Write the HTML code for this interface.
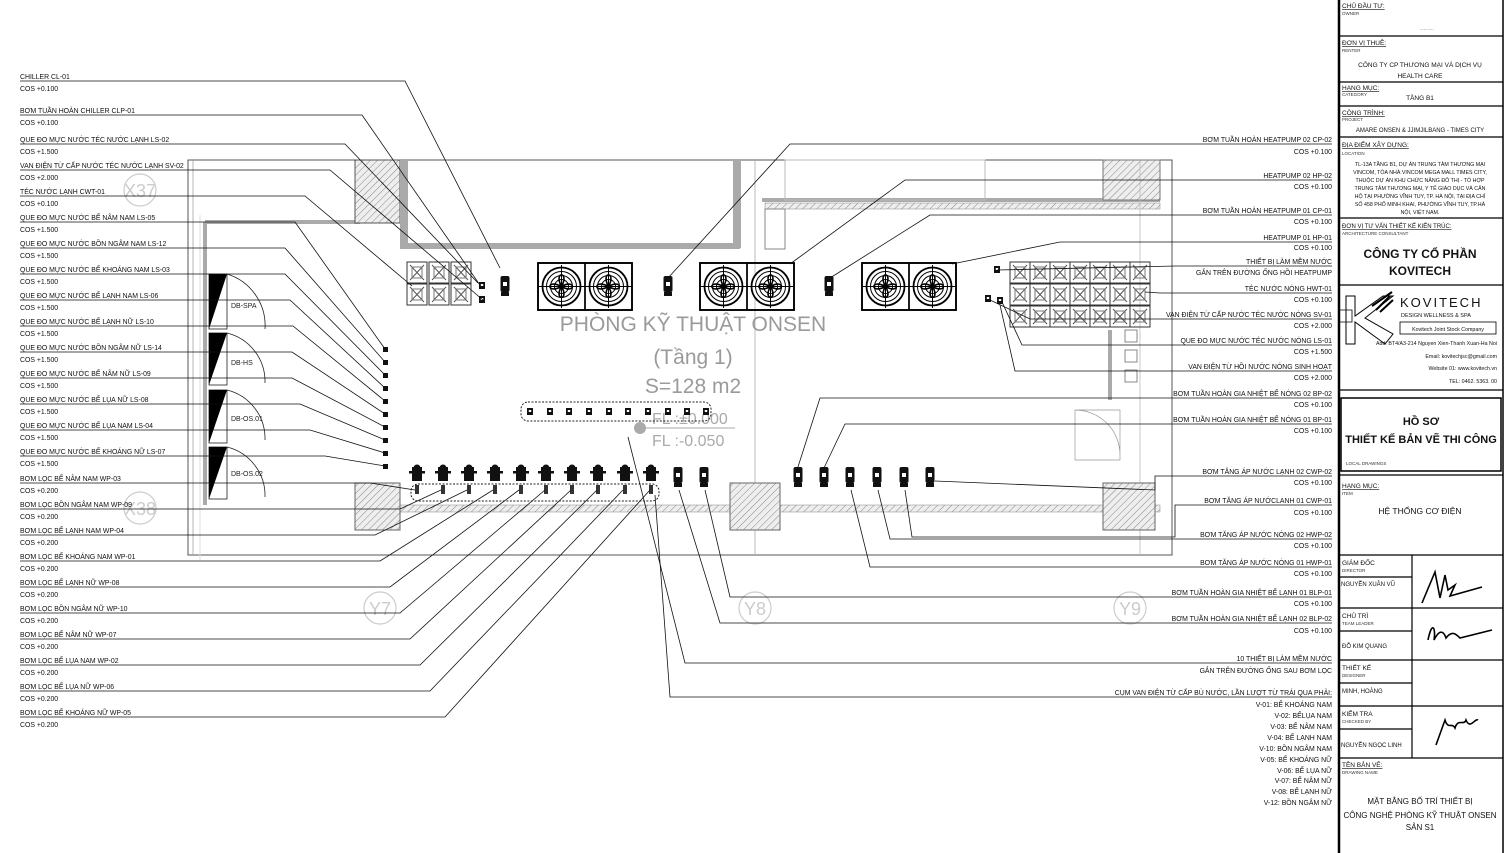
<!DOCTYPE html>
<html><head><meta charset="utf-8"><style>
html,body{margin:0;padding:0;background:#fff;}
svg{display:block;font-family:"Liberation Sans",sans-serif;}
.l{font-size:6.9px;fill:#111;}
.r{font-size:6.9px;fill:#111;text-anchor:end;}
.t{font-size:6.5px;fill:#111;}
.s{font-size:4.5px;fill:#333;}
.c{text-anchor:middle;}
.big{fill:#9a9a9a;text-anchor:middle;}
</style></head><body>
<svg width="1505" height="853" viewBox="0 0 1505 853" xmlns="http://www.w3.org/2000/svg">
<defs>
<pattern id="h" width="5" height="5" patternUnits="userSpaceOnUse" patternTransform="rotate(45)"><rect width="5" height="5" fill="#eee"/><line x1="0" y1="0" x2="0" y2="5" stroke="#888" stroke-width="1"/></pattern>
<g id="fan"><rect x="0" y="0" width="47" height="47" fill="none" stroke="#000" stroke-width="1.5"/><circle cx="23.5" cy="23.5" r="19" fill="#fff" stroke="#000" stroke-width="1.8"/><circle cx="23.5" cy="23.5" r="15" fill="none" stroke="#000" stroke-width="1"/><circle cx="23.5" cy="23.5" r="11" fill="none" stroke="#000" stroke-width="1"/><circle cx="23.5" cy="23.5" r="7" fill="none" stroke="#000" stroke-width="1"/><circle cx="23.5" cy="23.5" r="3" fill="#000"/><path d="M23.5 23.5 C15 8 32 8 23.5 23.5 C38 15 38 32 23.5 23.5 C32 38 15 38 23.5 23.5 C8 32 8 15 23.5 23.5" fill="none" stroke="#000" stroke-width="1.6"/><line x1="0" y1="23.5" x2="47" y2="23.5" stroke="#000"/><line x1="23.5" y1="2" x2="23.5" y2="45" stroke="#000"/></g>
<g id="cell"><rect x="0" y="0" width="20" height="21" fill="none" stroke="#333"/><path d="M3 3 L17 18 M17 3 L3 18" stroke="#555"/><rect x="5" y="5" width="10" height="11" fill="none" stroke="#777"/></g>
<g id="pump"><rect x="-4.5" y="0" width="9" height="16" rx="2" fill="#111"/><rect x="-4" y="16" width="8" height="4" fill="#111"/><rect x="-2" y="6" width="4" height="4" fill="#fff"/></g>
<g id="wp"><rect x="-5" y="2" width="10" height="14" fill="#111"/><rect x="-8" y="6" width="16" height="2.5" fill="#111"/><circle cx="0" cy="3" r="3.5" fill="#111"/><rect x="-2" y="20" width="4" height="9" fill="#333"/></g>
<g id="sv"><rect x="-3" y="0" width="6" height="7" fill="#111"/><rect x="-1.2" y="2" width="2.4" height="2" fill="#fff"/></g>
</defs>

<rect x="188" y="160" width="984" height="395" fill="none" stroke="#555" stroke-width="1"/>
<line x1="193" y1="160" x2="193" y2="555" stroke="#999" stroke-width="0.7"/>
<line x1="205" y1="222" x2="205" y2="505" stroke="#aaa" stroke-width="4"/>
<line x1="205" y1="222" x2="360" y2="222" stroke="#aaa" stroke-width="4"/>
<rect x="355" y="160" width="45" height="63" fill="url(#h)" stroke="#555"/>
<rect x="400" y="160" width="8" height="88" fill="#aaa"/>
<rect x="400" y="243" width="340" height="6" fill="#aaa"/>
<rect x="733" y="160" width="8" height="88" fill="#aaa"/>
<line x1="762" y1="200" x2="1160" y2="200" stroke="#aaa" stroke-width="4"/>
<rect x="765" y="203" width="395" height="6" fill="url(#h)" stroke="#888" stroke-width="0.5"/>
<rect x="765" y="209" width="20" height="40" fill="none" stroke="#888"/>
<rect x="785" y="160" width="200" height="40" fill="none" stroke="#bbb"/>
<rect x="1103" y="160" width="57" height="40" fill="url(#h)" stroke="#777"/>
<line x1="1110" y1="330" x2="1110" y2="400" stroke="#aaa" stroke-width="4"/>
<rect x="1125" y="330" width="12" height="12" fill="none" stroke="#888"/><rect x="1125" y="350" width="12" height="12" fill="none" stroke="#888"/><rect x="1125" y="370" width="12" height="12" fill="none" stroke="#888"/>
<path d="M1075 410 H1120 V460 H1075 Z M1075 410 A45 45 0 0 1 1120 455" fill="none" stroke="#999" stroke-width="0.7"/>
<line x1="755" y1="160" x2="755" y2="555" stroke="#aaa" stroke-width="0.8"/>
<line x1="1140" y1="160" x2="1140" y2="555" stroke="#bbb" stroke-width="0.8"/>
<rect x="355" y="505" width="805" height="7" fill="url(#h)" stroke="#888" stroke-width="0.5"/>
<rect x="355" y="483" width="45" height="47" fill="url(#h)" stroke="#666"/>
<rect x="730" y="483" width="50" height="47" fill="url(#h)" stroke="#666"/>
<rect x="1103" y="483" width="52" height="47" fill="url(#h)" stroke="#666"/>
<g fill="none" stroke="#ccc" stroke-width="1.2"><circle cx="140" cy="190" r="16"/><circle cx="140" cy="508" r="16"/><circle cx="380" cy="608" r="16"/><circle cx="755" cy="608" r="16"/><circle cx="1130" cy="608" r="16"/></g>
<g font-size="18" fill="#ccc" text-anchor="middle"><text x="140" y="197">X37</text><text x="140" y="515">X38</text><text x="380" y="615">Y7</text><text x="755" y="615">Y8</text><text x="1130" y="615">Y9</text></g>
<line x1="200" y1="215" x2="200" y2="560" stroke="#ddd"/>

<g stroke="#222" fill="none" stroke-width="0.8">
<rect x="209" y="274" width="18" height="55"/><rect x="209" y="333" width="18" height="52"/><rect x="209" y="390" width="18" height="53"/><rect x="209" y="447" width="18" height="52"/>
<path d="M227 274 A54 54 0 0 1 265 329"/><path d="M227 333 A50 50 0 0 1 265 383"/><path d="M227 390 A50 50 0 0 1 265 440"/><path d="M227 447 A50 50 0 0 1 265 497"/>
</g>
<g fill="#000"><path d="M209 329 L227 274 L209 274 Z"/><path d="M209 385 L227 333 L209 333 Z"/><path d="M209 443 L227 390 L209 390 Z"/><path d="M209 499 L227 447 L209 447 Z"/></g>
<g font-size="7" fill="#222"><text x="231" y="308">DB-SPA</text><text x="231" y="365">DB-HS</text><text x="231" y="421">DB-OS.01</text><text x="231" y="476">DB-OS.02</text></g>

<g transform="translate(407,262)"><use href="#cell"/><use href="#cell" x="22"/><use href="#cell" x="44"/><use href="#cell" y="22"/><use href="#cell" x="22" y="22"/><use href="#cell" x="44" y="22"/></g>
<g transform="translate(538,263)"><use href="#fan"/><use href="#fan" x="47"/></g>
<g transform="translate(700,263)"><use href="#fan"/><use href="#fan" x="47"/></g>
<g transform="translate(862,263)"><use href="#fan"/><use href="#fan" x="47"/></g>
<g fill="none" stroke="#000" stroke-width="1.8"><rect x="538" y="263" width="94" height="47"/><rect x="700" y="263" width="94" height="47"/><rect x="862" y="263" width="94" height="47"/></g>
<use href="#pump" x="505" y="276"/><use href="#pump" x="668" y="276"/><use href="#pump" x="829" y="276"/>
<g transform="translate(1010,262)">
<use href="#cell"/><use href="#cell" x="20"/><use href="#cell" x="40"/><use href="#cell" x="60"/><use href="#cell" x="80"/><use href="#cell" x="100"/><use href="#cell" x="120"/>
<use href="#cell" y="22"/><use href="#cell" x="20" y="22"/><use href="#cell" x="40" y="22"/><use href="#cell" x="60" y="22"/><use href="#cell" x="80" y="22"/><use href="#cell" x="100" y="22"/><use href="#cell" x="120" y="22"/>
<use href="#cell" y="44"/><use href="#cell" x="20" y="44"/><use href="#cell" x="40" y="44"/><use href="#cell" x="60" y="44"/><use href="#cell" x="80" y="44"/><use href="#cell" x="100" y="44"/><use href="#cell" x="120" y="44"/>
</g>
<use href="#sv" x="997" y="266"/><use href="#sv" x="988" y="295"/><use href="#sv" x="1000" y="297"/><use href="#sv" x="482" y="282"/><use href="#sv" x="482" y="296"/>
<g fill="#111"><rect x="383" y="347" width="5" height="5"/><rect x="383" y="360" width="5" height="5"/><rect x="383" y="373" width="5" height="5"/><rect x="383" y="386" width="5" height="5"/><rect x="383" y="399" width="5" height="5"/><rect x="383" y="412" width="5" height="5"/><rect x="383" y="425" width="5" height="5"/><rect x="383" y="438" width="5" height="5"/><rect x="383" y="451" width="5" height="5"/><rect x="383" y="464" width="5" height="5"/></g>

<text x="693" y="331" class="big" font-size="21">PHÒNG KỸ THUẬT ONSEN</text>
<text x="693" y="364" class="big" font-size="21">(Tầng 1)</text>
<text x="693" y="393" class="big" font-size="21">S=128 m2</text>
<text x="652" y="424" fill="#aaa" font-size="16">FL :±0.000</text>
<line x1="640" y1="428" x2="735" y2="428" stroke="#aaa"/>
<circle cx="640" cy="428" r="6" fill="#aaa"/>
<text x="652" y="446" fill="#aaa" font-size="16">FL  :-0.050</text>

<rect x="521" y="402" width="190" height="19" rx="7" fill="none" stroke="#222" stroke-dasharray="2,1.5"/>
<g><use href="#sv" x="530" y="408"/><use href="#sv" x="550" y="408"/><use href="#sv" x="569" y="408"/><use href="#sv" x="589" y="408"/><use href="#sv" x="609" y="408"/><use href="#sv" x="628" y="408"/><use href="#sv" x="648" y="408"/><use href="#sv" x="668" y="408"/><use href="#sv" x="687" y="408"/><use href="#sv" x="706" y="408"/></g>
<rect x="411" y="484" width="248" height="17" rx="7" fill="none" stroke="#222" stroke-dasharray="2,1.5"/>
<use href="#wp" x="417" y="465"/><use href="#wp" x="443" y="465"/><use href="#wp" x="469" y="465"/><use href="#wp" x="495" y="465"/><use href="#wp" x="521" y="465"/><use href="#wp" x="546" y="465"/><use href="#wp" x="572" y="465"/><use href="#wp" x="598" y="465"/><use href="#wp" x="625" y="465"/><use href="#wp" x="651" y="465"/>
<use href="#pump" x="678" y="467"/><use href="#pump" x="704" y="467"/>
<use href="#pump" x="798" y="467"/><use href="#pump" x="824" y="467"/><use href="#pump" x="850" y="467"/><use href="#pump" x="877" y="467"/><use href="#pump" x="904" y="467"/><use href="#pump" x="930" y="467"/>

<g stroke="#111" stroke-width="0.8" fill="none">
<polyline points="20,81 405,81 500,268"/>
<polyline points="20,115 362,115 482,288"/>
<polyline points="20,144 345,144 478,283"/>
<polyline points="20,170 330,170 483,300"/>
<polyline points="20,196 305,196 412,286"/>
<polyline points="20,222 295,222 385,349"/>
<polyline points="20,248 285,248 385,362"/>
<polyline points="20,274 285,274 385,375"/>
<polyline points="20,300 290,300 385,388"/>
<polyline points="20,326 293,326 385,401"/>
<polyline points="20,352 292,352 385,414"/>
<polyline points="20,378 292,378 385,427"/>
<polyline points="20,404 300,404 385,440"/>
<polyline points="20,430 310,430 385,453"/>
<polyline points="20,456 325,456 385,466"/>
<polyline points="20,483 370,483 415,490"/>
<polyline points="20,509 400,509 441,490"/>
<polyline points="20,535 375,535 467,490"/>
<polyline points="20,561 380,561 493,490"/>
<polyline points="20,587 390,587 519,490"/>
<polyline points="20,613 400,613 545,490"/>
<polyline points="20,639 410,639 571,490"/>
<polyline points="20,665 420,665 597,490"/>
<polyline points="20,691 430,691 623,490"/>
<polyline points="20,717 445,717 650,490"/>
<polyline points="1332,144 790,144 668,278"/>
<polyline points="1332,180 905,180 790,264"/>
<polyline points="1332,215 930,215 830,278"/>
<polyline points="1332,242 1060,242 952,264"/>
<polyline points="1332,266 1175,266 997,270"/>
<polyline points="1332,293 1160,293 1145,292"/>
<polyline points="1332,319 1030,319 990,300"/>
<polyline points="1332,345 1022,345 1002,302"/>
<polyline points="1332,371 1015,371 1000,305"/>
<polyline points="1332,398 820,398 797,470"/>
<polyline points="1332,424 845,424 823,470"/>
<polyline points="1332,476 1155,476 1155,490 935,481"/>
<polyline points="1332,505 1175,505 1175,537 912,537 905,490"/>
<polyline points="1332,539 890,539 878,490"/>
<polyline points="1332,567 870,567 851,490"/>
<polyline points="1332,597 730,597 705,490"/>
<polyline points="1332,623 720,623 679,490"/>
<polyline points="1332,663 685,663 628,437"/>
<polyline points="1332,697 670,697 655,495"/>
</g>

<g class="l">
<text x="20" y="79">CHILLER CL-01</text><text x="20" y="91">COS +0.100</text>
<text x="20" y="113">BƠM TUẦN HOÀN CHILLER CLP-01</text><text x="20" y="125">COS +0.100</text>
<text x="20" y="142">QUE ĐO MỰC NƯỚC TÉC NƯỚC LẠNH LS-02</text><text x="20" y="154">COS +1.500</text>
<text x="20" y="168">VAN ĐIỆN TỪ CẤP NƯỚC TÉC NƯỚC LẠNH SV-02</text><text x="20" y="180">COS +2.000</text>
<text x="20" y="194">TÉC NƯỚC LẠNH CWT-01</text><text x="20" y="206">COS +0.100</text>
<text x="20" y="220">QUE ĐO MỰC NƯỚC BỂ NÂM NAM LS-05</text><text x="20" y="232">COS +1.500</text>
<text x="20" y="246">QUE ĐO MỰC NƯỚC BỒN NGÂM NAM LS-12</text><text x="20" y="258">COS +1.500</text>
<text x="20" y="272">QUE ĐO MỰC NƯỚC BỂ KHOÁNG NAM LS-03</text><text x="20" y="284">COS +1.500</text>
<text x="20" y="298">QUE ĐO MỰC NƯỚC BỂ LẠNH NAM LS-06</text><text x="20" y="310">COS +1.500</text>
<text x="20" y="324">QUE ĐO MỰC NƯỚC BỂ LẠNH NỮ LS-10</text><text x="20" y="336">COS +1.500</text>
<text x="20" y="350">QUE ĐO MỰC NƯỚC BỒN NGÂM NỮ LS-14</text><text x="20" y="362">COS +1.500</text>
<text x="20" y="376">QUE ĐO MỰC NƯỚC BỂ NÂM NỮ LS-09</text><text x="20" y="388">COS +1.500</text>
<text x="20" y="402">QUE ĐO MỰC NƯỚC BỂ LỤA NỮ LS-08</text><text x="20" y="414">COS +1.500</text>
<text x="20" y="428">QUE ĐO MỰC NƯỚC BỂ LỤA NAM LS-04</text><text x="20" y="440">COS +1.500</text>
<text x="20" y="454">QUE ĐO MỰC NƯỚC BỂ KHOÁNG NỮ LS-07</text><text x="20" y="466">COS +1.500</text>
<text x="20" y="481">BƠM LỌC BỂ NÂM NAM WP-03</text><text x="20" y="493">COS +0.200</text>
<text x="20" y="507">BƠM LỌC BỒN NGÂM NAM WP-09</text><text x="20" y="519">COS +0.200</text>
<text x="20" y="533">BƠM LỌC BỂ LẠNH NAM WP-04</text><text x="20" y="545">COS +0.200</text>
<text x="20" y="559">BƠM LỌC BỂ KHOÁNG NAM WP-01</text><text x="20" y="571">COS +0.200</text>
<text x="20" y="585">BƠM LỌC BỂ LẠNH NỮ WP-08</text><text x="20" y="597">COS +0.200</text>
<text x="20" y="611">BƠM LỌC BỒN NGÂM NỮ WP-10</text><text x="20" y="623">COS +0.200</text>
<text x="20" y="637">BƠM LỌC BỂ NÂM NỮ WP-07</text><text x="20" y="649">COS +0.200</text>
<text x="20" y="663">BƠM LỌC BỂ LỤA NAM WP-02</text><text x="20" y="675">COS +0.200</text>
<text x="20" y="689">BƠM LỌC BỂ LỤA NỮ WP-06</text><text x="20" y="701">COS +0.200</text>
<text x="20" y="715">BƠM LỌC BỂ KHOÁNG NỮ WP-05</text><text x="20" y="727">COS +0.200</text>
</g>

<g class="r">
<text x="1332" y="142">BƠM TUẦN HOÀN HEATPUMP 02 CP-02</text><text x="1332" y="154">COS +0.100</text>
<text x="1332" y="178">HEATPUMP 02 HP-02</text><text x="1332" y="189">COS +0.100</text>
<text x="1332" y="213">BƠM TUẦN HOÀN HEATPUMP 01 CP-01</text><text x="1332" y="224">COS +0.100</text>
<text x="1332" y="240">HEATPUMP 01 HP-01</text><text x="1332" y="250">COS +0.100</text>
<text x="1332" y="264">THIẾT BỊ LÀM MỀM NƯỚC</text><text x="1332" y="275">GẮN TRÊN ĐƯỜNG ỐNG HỒI HEATPUMP</text>
<text x="1332" y="291">TÉC NƯỚC NÓNG HWT-01</text><text x="1332" y="302">COS +0.100</text>
<text x="1332" y="317">VAN ĐIỆN TỪ CẤP NƯỚC TÉC NƯỚC NÓNG SV-01</text><text x="1332" y="328">COS +2.000</text>
<text x="1332" y="343">QUE ĐO MỰC NƯỚC TÉC NƯỚC NÓNG LS-01</text><text x="1332" y="354">COS +1.500</text>
<text x="1332" y="369">VAN ĐIỆN TỪ HỒI NƯỚC NÓNG SINH HOẠT</text><text x="1332" y="380">COS +2.000</text>
<text x="1332" y="396">BƠM TUẦN HOÀN GIA NHIỆT BỂ NÓNG 02 BP-02</text><text x="1332" y="407">COS +0.100</text>
<text x="1332" y="422">BƠM TUẦN HOÀN GIA NHIỆT BỂ NÓNG 01 BP-01</text><text x="1332" y="433">COS +0.100</text>
<text x="1332" y="474">BƠM TĂNG ÁP NƯỚC LẠNH 02 CWP-02</text><text x="1332" y="485">COS +0.100</text>
<text x="1332" y="503">BƠM TĂNG ÁP NƯỚCLANH 01 CWP-01</text><text x="1332" y="515">COS +0.100</text>
<text x="1332" y="537">BƠM TĂNG ÁP NƯỚC NÓNG 02 HWP-02</text><text x="1332" y="548">COS +0.100</text>
<text x="1332" y="565">BƠM TĂNG ÁP NƯỚC NÓNG 01 HWP-01</text><text x="1332" y="576">COS +0.100</text>
<text x="1332" y="595">BƠM TUẦN HOÀN GIA NHIỆT BỂ LẠNH 01 BLP-01</text><text x="1332" y="606">COS +0.100</text>
<text x="1332" y="621">BƠM TUẦN HOÀN GIA NHIỆT BỂ LẠNH 02 BLP-02</text><text x="1332" y="633">COS +0.100</text>
<text x="1332" y="661">10 THIẾT BỊ LÀM MỀM NƯỚC</text><text x="1332" y="673">GẮN TRÊN ĐƯỜNG ỐNG SAU BƠM LỌC</text>
<text x="1332" y="695">CỤM VAN ĐIỆN TỪ CẤP BÙ NƯỚC, LẦN LƯỢT TỪ TRÁI QUA PHẢI:</text>
<text x="1332" y="707">V-01: BỂ KHOÁNG NAM</text><text x="1332" y="718">V-02: BỂLỤA NAM</text><text x="1332" y="729">V-03: BỂ NÂM NAM</text><text x="1332" y="740">V-04: BỂ LẠNH NAM</text><text x="1332" y="751">V-10: BỒN NGÂM NAM</text><text x="1332" y="762">V-05: BỂ KHOÁNG NỮ</text><text x="1332" y="773">V-06: BỂ LỤA NỮ</text><text x="1332" y="783">V-07: BỂ NÂM NỮ</text><text x="1332" y="794">V-08: BỂ LẠNH NỮ</text><text x="1332" y="805">V-12: BỒN NGÂM NỮ</text>
</g>

<g stroke="#000" fill="none">
<line x1="1339" y1="0" x2="1339" y2="853" stroke-width="2.5"/>
<line x1="1503" y1="0" x2="1503" y2="853" stroke-width="1.5"/>
<g stroke-width="1.2">
<line x1="1339" y1="36" x2="1503" y2="36"/><line x1="1339" y1="82" x2="1503" y2="82"/><line x1="1339" y1="106" x2="1503" y2="106"/><line x1="1339" y1="137" x2="1503" y2="137"/><line x1="1339" y1="218" x2="1503" y2="218"/><line x1="1339" y1="285" x2="1503" y2="285"/><line x1="1339" y1="390" x2="1503" y2="390"/><line x1="1339" y1="475" x2="1503" y2="475"/><line x1="1339" y1="555" x2="1503" y2="555"/><line x1="1339" y1="608" x2="1503" y2="608"/><line x1="1339" y1="660" x2="1503" y2="660"/><line x1="1339" y1="706" x2="1503" y2="706"/><line x1="1339" y1="758" x2="1503" y2="758"/>
<line x1="1340" y1="577" x2="1412" y2="577"/><line x1="1340" y1="631" x2="1412" y2="631"/><line x1="1340" y1="683" x2="1412" y2="683"/><line x1="1340" y1="729" x2="1412" y2="729"/>
<line x1="1412" y1="555" x2="1412" y2="758"/>
</g>
<rect x="1341" y="398" width="160" height="73" stroke-width="1.5"/>
<rect x="1400" y="322" width="96" height="12" stroke-width="0.8"/>
<path d="M1346 296 L1346 344 L1355 344 L1355 322 L1385 344 L1393 334 L1365 318 L1393 296 L1383 296 L1355 316 L1355 296 Z" stroke-width="1"/>
<path d="M1340 310 H1352 V322 H1340" stroke-width="0.8"/>
</g>
<path d="M1372 306 L1392 292 M1376 310 L1390 296 M1380 312 L1393 300" stroke="#000" stroke-width="2"/>
<g class="t">
<text x="1342" y="8" text-decoration="underline">CHỦ ĐẦU TƯ:</text><text x="1342" y="15" class="s">OWNER</text><text x="1420" y="30" class="s">...........</text>
<text x="1342" y="45" text-decoration="underline">ĐƠN VỊ THUÊ:</text><text x="1342" y="52" class="s">RENTER</text>
<text x="1420" y="67" class="c">CÔNG TY CP THƯƠNG MẠI VÀ DỊCH VỤ</text><text x="1420" y="78" class="c">HEALTH CARE</text>
<text x="1342" y="90" text-decoration="underline">HẠNG MỤC:</text><text x="1342" y="96" class="s">CATEGORY</text><text x="1420" y="100" class="c">TẦNG B1</text>
<text x="1342" y="115" text-decoration="underline">CÔNG TRÌNH:</text><text x="1342" y="121" class="s">PROJECT</text>
<text x="1420" y="132" class="c" font-size="6">AMARE ONSEN &amp; JJIMJILBANG - TIMES CITY</text>
<text x="1342" y="147" text-decoration="underline">ĐỊA ĐIỂM XÂY DỰNG:</text><text x="1342" y="155" class="s">LOCATION</text>
<g font-size="5.3" text-anchor="middle"><text x="1420" y="166">TL-13A TẦNG B1, DỰ ÁN TRUNG TÂM THƯƠNG MẠI</text><text x="1420" y="174">VINCOM, TÒA NHÀ VINCOM MEGA MALL TIMES CITY,</text><text x="1420" y="182">THUỘC DỰ ÁN KHU CHỨC NĂNG ĐÔ THỊ - TỔ HỢP</text><text x="1420" y="190">TRUNG TÂM THƯƠNG MẠI, Y TẾ GIÁO DỤC VÀ CĂN</text><text x="1420" y="198">HỘ TẠI PHƯỜNG VĨNH TUY, TP. HÀ NỘI, TẠI ĐỊA CHỈ</text><text x="1420" y="206">SỐ 458 PHỐ MINH KHAI, PHƯỜNG VĨNH TUY, TP.HÀ</text><text x="1420" y="214">NỘI, VIỆT NAM.</text></g>
<text x="1342" y="228" text-decoration="underline" font-size="6">ĐƠN VỊ TƯ VẤN THIẾT KẾ KIẾN TRÚC:</text><text x="1342" y="235" class="s">ARCHITECTURE CONSULTANT</text>
<text x="1420" y="258" class="c" font-size="12" font-weight="bold">CÔNG TY CỔ PHẦN</text><text x="1420" y="275" class="c" font-size="12" font-weight="bold">KOVITECH</text>
<text x="1400" y="307" font-size="13" letter-spacing="2">KOVITECH</text>
<text x="1401" y="317" font-size="5.5">DESIGN WELLNESS &amp; SPA</text>
<text x="1448" y="331" class="c" font-size="5.3">Kovitech Joint Stock Company</text>
<text x="1497" y="345" text-anchor="end" font-size="5.3">Add: BT4/A3-214 Nguyen Xien-Thanh Xuan-Ha Noi</text>
<text x="1497" y="358" text-anchor="end" font-size="5.3">Email: kovitechjsc@gmail.com</text>
<text x="1497" y="370" text-anchor="end" font-size="5.3">Website 01: www.kovitech.vn</text>
<text x="1497" y="383" text-anchor="end" font-size="5.3">TEL: 0462. 5363. 00</text>
<text x="1421" y="425" class="c" font-size="11" font-weight="bold">HỒ SƠ</text>
<text x="1421" y="443" class="c" font-size="11" font-weight="bold">THIẾT KẾ BẢN VẼ THI CÔNG</text>
<text x="1346" y="465" class="s">LOCAL DRAWINGS</text>
<text x="1342" y="488" text-decoration="underline">HẠNG MỤC:</text><text x="1342" y="495" class="s">ITEM</text>
<text x="1420" y="514" class="c" font-size="8.5">HỆ THỐNG CƠ ĐIỆN</text>
<text x="1342" y="565">GIÁM ĐỐC</text><text x="1342" y="572" class="s">DIRECTOR</text><text x="1341" y="586" font-size="6">NGUYỄN XUÂN VŨ</text>
<text x="1342" y="618">CHỦ TRÌ</text><text x="1342" y="625" class="s">TEAM LEADER</text><text x="1342" y="648" font-size="6">ĐỖ KIM QUANG</text>
<text x="1342" y="670">THIẾT KẾ</text><text x="1342" y="677" class="s">DESIGNER</text><text x="1342" y="693" font-size="6">MINH, HOÀNG</text>
<text x="1342" y="716">KIỂM TRA</text><text x="1342" y="723" class="s">CHECKED BY</text><text x="1341" y="747" font-size="6">NGUYỄN NGỌC LINH</text>
<text x="1342" y="767" text-decoration="underline">TÊN BẢN VẼ:</text><text x="1342" y="774" class="s">DRAWING NAME</text>
<text x="1420" y="804" class="c" font-size="8">MẶT BẰNG BỐ TRÍ THIẾT BỊ</text>
<text x="1420" y="818" class="c" font-size="8">CÔNG NGHỆ PHÒNG KỸ THUẬT ONSEN</text>
<text x="1420" y="830" class="c" font-size="8">SẢN S1</text>
</g>
<g stroke="#000" fill="none" stroke-width="1.6">
<path d="M1422 603 L1435 572 L1440 598 L1445 575 L1448 590 L1455 585 L1450 596 L1482 587"/>
<path d="M1428 640 C1432 620 1436 628 1434 640 C1440 628 1444 632 1446 638 C1452 630 1456 634 1460 638 L1492 630"/>
<path d="M1436 745 L1445 720 C1448 730 1452 722 1455 728 C1458 718 1464 726 1466 720 C1470 730 1475 718 1478 720"/>
</g>
</svg>
</body></html>
